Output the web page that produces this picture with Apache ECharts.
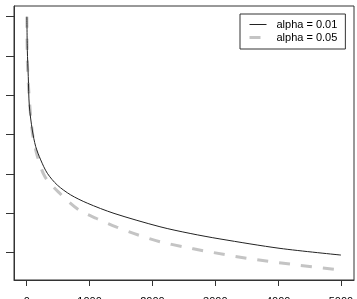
<!DOCTYPE html>
<html>
<head>
<meta charset="utf-8">
<script src="https://cdn.jsdelivr.net/npm/echarts@6/dist/echarts.min.js"></script>
<style>
    html, body {margin: 0; padding: 0; background: #fff;}
</style>
</head>
<body>
<div id="chart" style="width: 357px;height: 299px;"></div>
<script>
    // tick positions
    var xTicks = [0, 1000, 2000, 3000, 4000, 5000];
    var yTicks = [0.1, 0.2, 0.3, 0.4, 0.5, 0.6, 0.7];

    // alpha = 0.01 (solid)
    var nSolid = [3, 10, 25, 42, 89, 143, 223, 328, 487, 700, 964, 1389, 2120, 2600, 3075, 4030, 5000];
    var ySolid = [0.700, 0.615, 0.548, 0.473, 0.412, 0.370, 0.336, 0.302, 0.272, 0.247, 0.226, 0.200, 0.166, 0.149, 0.135, 0.111, 0.094];

    // alpha = 0.05 (dashed)
    var nDashed = [3, 10, 32, 64, 100, 169, 291, 520, 820, 1114, 1432, 1775, 2120, 2491, 2810, 3500, 4189, 5000];
    var yDashed = [0.700, 0.590, 0.514, 0.446, 0.395, 0.346, 0.293, 0.252, 0.210, 0.187, 0.165, 0.145, 0.128, 0.115, 0.105, 0.086, 0.071, 0.056];

    var seriesNames = ['alpha = 0.01', 'alpha = 0.05'];

    function pairs(xs, ys) {
        var out = [];
        xs.forEach(function (x, i) {
            out.push([x, ys[i]]);
        });
        return out;
    }

    var solidStyle = {color: '#222', width: 1};
    var dashStyle = {color: '#c4c4c4', width: 3, type: [11, 11]};

    var myChart = echarts.init(document.getElementById('chart'));
    myChart.setOption({
        animation: false,
        textStyle: {fontFamily: 'Liberation Sans'},
        grid: {
            left: 14, top: 6, right: 3, bottom: 19,
            outerBoundsMode: 'none',   // keep the box fixed, labels may run off the canvas
            show: true,
            borderColor: '#333',
            borderWidth: 1
        },
        legend: {
            data: [
                {name: seriesNames[0], lineStyle: solidStyle},
                {name: seriesNames[1], lineStyle: dashStyle}
            ],
            orient: 'vertical',
            left: 240,
            top: 14,
            padding: [5, 8, 6, 8],
            itemGap: 2,
            itemWidth: 17,
            itemHeight: 12,
            borderColor: '#333',
            borderWidth: 1,
            backgroundColor: '#fff',
            itemStyle: {opacity: 0},   // line only, no symbol
            textStyle: {
                fontSize: 11,
                color: '#000',
                padding: [0, 0, 0, 5]
            }
        },
        xAxis: {
            type: 'value',
            min: -202,
            max: 5207,
            splitLine: {show: false},
            axisLine: {show: true, onZero: false, lineStyle: {color: '#333'}},
            axisTick: {
                show: true,
                length: 6,
                customValues: xTicks,
                lineStyle: {color: '#333'}
            },
            axisLabel: {
                customValues: xTicks,
                formatter: function (v) { return String(v); },
                margin: 16,
                fontSize: 11,
                color: '#000'
            }
        },
        yAxis: {
            type: 'value',
            min: 0.0306,
            max: 0.7273,
            splitLine: {show: false},
            axisLine: {show: true, onZero: false, lineStyle: {color: '#333'}},
            axisTick: {
                show: true,
                length: 8,
                customValues: yTicks,
                lineStyle: {color: '#333'}
            },
            axisLabel: {show: false}
        },
        series: [
            {
                name: seriesNames[0],
                type: 'line',
                data: pairs(nSolid, ySolid),
                showSymbol: false,
                symbol: 'none',
                smooth: 0.3,
                lineStyle: solidStyle,
                itemStyle: {color: '#222'},
                z: 3
            },
            {
                name: seriesNames[1],
                type: 'line',
                data: pairs(nDashed, yDashed),
                showSymbol: false,
                symbol: 'none',
                smooth: 0.3,
                lineStyle: dashStyle,
                itemStyle: {color: '#c4c4c4'},
                z: 2
            }
        ]
    });
</script>
</body>
</html>
